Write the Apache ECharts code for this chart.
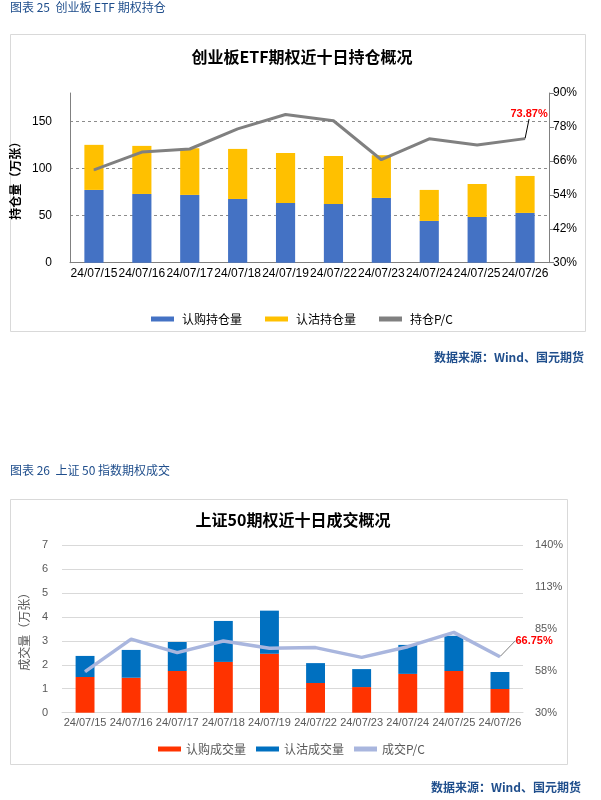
<!DOCTYPE html>
<html>
<head>
<meta charset="utf-8">
<script src="https://cdn.jsdelivr.net/npm/echarts@6/dist/echarts.min.js"></script>
<style>
html,body{margin:0;padding:0;background:#fff;}
#c{width:601px;height:800px;}
</style>
</head>
<body>
<div id="c"></div>
<script>
const dates = ['24/07/15','24/07/16','24/07/17','24/07/18','24/07/19','24/07/22','24/07/23','24/07/24','24/07/25','24/07/26'];

// Chart 1: 创业板ETF期权持仓 (万张, %)
const callOI = [77.2, 72.9, 71.9, 67.6, 63.4, 62.3, 68.7, 44.3, 48.5, 52.8];
const putOI  = [47.8, 51.0, 49.5, 53.1, 53.0, 51.0, 45.3, 32.9, 35.0, 39.2];
const pcOI   = [62.8, 69.1, 70.2, 77.3, 82.4, 80.2, 66.4, 73.8, 71.6, 73.87];

// Chart 2: 上证50期权成交 (万张, %)
const callVol = [1.49, 1.46, 1.74, 2.12, 2.46, 1.24, 1.07, 1.62, 1.74, 0.99];
const putVol  = [0.88, 1.16, 1.21, 1.71, 1.80, 0.83, 0.75, 1.21, 1.47, 0.71];
const pcVol   = [56.9, 78.3, 69.4, 77.0, 72.3, 72.7, 66.3, 73.3, 82.7, 66.75];

const CJK = '"Noto Sans CJK SC", "Liberation Sans", sans-serif';
const LAT = '"Liberation Sans", "Noto Sans CJK SC", sans-serif';

function lastLabelData(arr, color) {
  return arr.map((v, i) => i === arr.length - 1
    ? { value: v, label: { show: true, formatter: v.toFixed(2) + '%', color: '#FF0000', fontWeight: 'bold', fontSize: 11, fontFamily: LAT },
        labelLine: { show: true, lineStyle: { color: color, width: 1 } } }
    : v);
}

const chart = echarts.init(document.getElementById('c'), null, { renderer: 'canvas' });
chart.setOption({
  animation: false,
  backgroundColor: '#fff',
  title: [
    { text: '创业板ETF期权近十日持仓概况', left: 297, textAlign: 'center', top: 44,
      textStyle: { fontFamily: CJK, fontSize: 16, fontWeight: 'bold', color: '#000' } },
    { text: '上证50期权近十日成交概况', left: 288, textAlign: 'center', top: 507,
      textStyle: { fontFamily: CJK, fontSize: 16, fontWeight: 'bold', color: '#000' } }
  ],
  graphic: [
    { type: 'rect', shape: { x: 10.5, y: 34.5, width: 575, height: 297 }, style: { fill: 'none', stroke: '#d9d9d9', lineWidth: 1 }, z: -1 },
    { type: 'rect', shape: { x: 10.5, y: 499.5, width: 557, height: 265 }, style: { fill: 'none', stroke: '#d9d9d9', lineWidth: 1 }, z: -1 },
    { type: 'text', left: 10, top: 1, style: { text: '图表 25  创业板 ETF 期权持仓', fill: '#1F4E8C', font: '12px "Noto Sans CJK SC", sans-serif' } },
    { type: 'text', left: 10, top: 464, style: { text: '图表 26  上证 50 指数期权成交', fill: '#1F4E8C', font: '12px "Noto Sans CJK SC", sans-serif' } },
    { type: 'text', right: 17, top: 351, style: { text: '数据来源：Wind、国元期货', fill: '#1F4E8C', font: 'bold 12px "Noto Sans CJK SC", sans-serif' } },
    { type: 'text', right: 20, top: 781, style: { text: '数据来源：Wind、国元期货', fill: '#1F4E8C', font: 'bold 12px "Noto Sans CJK SC", sans-serif' } }
  ],
  legend: [
    { top: 308, left: 146, itemWidth: 23, itemHeight: 5, itemGap: 23, icon: 'rect',
      data: ['认购持仓量', '认沽持仓量', '持仓P/C'],
      textStyle: { fontFamily: CJK, fontSize: 12, color: '#000', padding: [0, 0, 0, 3] } },
    { top: 738, left: 153, itemWidth: 23, itemHeight: 5, itemGap: 10, icon: 'rect',
      data: ['认购成交量', '认沽成交量', '成交P/C'],
      textStyle: { fontFamily: CJK, fontSize: 12, color: '#595959', padding: [0, 0, 0, 0] } }
  ],
  grid: [
    { left: 70, right: 52, top: 93, bottom: 537.3 },
    { left: 62, right: 78, top: 545, bottom: 87.3 }
  ],
  xAxis: [
    { type: 'category', gridIndex: 0, data: dates,
      axisLine: { lineStyle: { color: '#808080', width: 1 } }, axisTick: { show: false },
      axisLabel: { interval: 0, hideOverlap: false, fontFamily: LAT, fontSize: 12, color: '#000', margin: 5 } },
    { type: 'category', gridIndex: 1, data: dates,
      axisLine: { lineStyle: { color: '#d9d9d9', width: 1 } }, axisTick: { show: false },
      axisLabel: { interval: 0, hideOverlap: false, fontFamily: LAT, fontSize: 11, color: '#595959', margin: 5 } }
  ],
  yAxis: [
    { type: 'value', gridIndex: 0, min: 0, max: 180, interval: 50,
      name: '持仓量（万张）', nameLocation: 'middle', nameRotate: 90, nameGap: 40,
      nameTextStyle: { fontFamily: CJK, fontSize: 12, fontWeight: 'bold', color: '#000' },
      axisLine: { show: true, lineStyle: { color: '#808080' } }, axisTick: { show: false },
      axisLabel: { showMaxLabel: false, fontFamily: LAT, fontSize: 12, color: '#000', margin: 18 },
      splitLine: { show: true, showMinLine: false, showMaxLine: false, lineStyle: { color: '#8c8c8c', type: [3, 3] } } },
    { type: 'value', gridIndex: 0, position: 'right', min: 30, max: 90, interval: 12,
      axisLine: { show: true, lineStyle: { color: '#808080' } },
      axisTick: { show: true, length: 5, lineStyle: { color: '#808080' } },
      axisLabel: { formatter: v => Math.round(v) + '%', fontFamily: LAT, fontSize: 12, color: '#000', margin: 4 },
      splitLine: { show: false } },
    { type: 'value', gridIndex: 1, min: 0, max: 7, interval: 1,
      name: '成交量（万张）', nameLocation: 'middle', nameRotate: 90, nameGap: 32,
      nameTextStyle: { fontFamily: CJK, fontSize: 12, color: '#595959' },
      axisLine: { show: false }, axisTick: { show: false },
      axisLabel: { fontFamily: LAT, fontSize: 11, color: '#595959', margin: 14 },
      splitLine: { show: true, showMinLine: false, lineStyle: { color: '#d9d9d9', width: 1 } } },
    { type: 'value', gridIndex: 1, position: 'right', min: 30, max: 140, interval: 27.5,
      axisLine: { show: false }, axisTick: { show: false },
      axisLabel: { formatter: v => Math.round(v) + '%', fontFamily: LAT, fontSize: 11, color: '#595959', margin: 12 },
      splitLine: { show: false } }
  ],
  series: [
    { name: '认购持仓量', type: 'bar', xAxisIndex: 0, yAxisIndex: 0, stack: 'a', data: callOI,
      barWidth: '40%', itemStyle: { color: '#4472C4' } },
    { name: '认沽持仓量', type: 'bar', xAxisIndex: 0, yAxisIndex: 0, stack: 'a', data: putOI,
      barWidth: '40%', itemStyle: { color: '#FFC000' } },
    { name: '持仓P/C', type: 'line', xAxisIndex: 0, yAxisIndex: 1, data: lastLabelData(pcOI, '#000'),
      symbol: 'circle', symbolSize: 1, showSymbol: true,
      lineStyle: { color: '#808080', width: 3 }, itemStyle: { color: '#808080' },
      label: { show: false, position: 'top' },
      labelLayout: p => p.dataIndex === pcOI.length - 1 ? { dx: 4, dy: -14 } : {} , z: 5 },
    { name: '认购成交量', type: 'bar', xAxisIndex: 1, yAxisIndex: 2, stack: 'b', data: callVol,
      barWidth: '41%', itemStyle: { color: '#FF3300' } },
    { name: '认沽成交量', type: 'bar', xAxisIndex: 1, yAxisIndex: 2, stack: 'b', data: putVol,
      barWidth: '41%', itemStyle: { color: '#0070C0' } },
    { name: '成交P/C', type: 'line', xAxisIndex: 1, yAxisIndex: 3, data: lastLabelData(pcVol, '#808080'),
      symbol: 'circle', symbolSize: 1, showSymbol: true,
      lineStyle: { color: '#A9B6DE', width: 3.5 }, itemStyle: { color: '#A9B6DE' },
      label: { show: false, position: 'right' },
      labelLayout: p => p.dataIndex === pcVol.length - 1 ? { dx: 10, dy: -16 } : {}, z: 5 }
  ]
});
</script>
</body>
</html>
